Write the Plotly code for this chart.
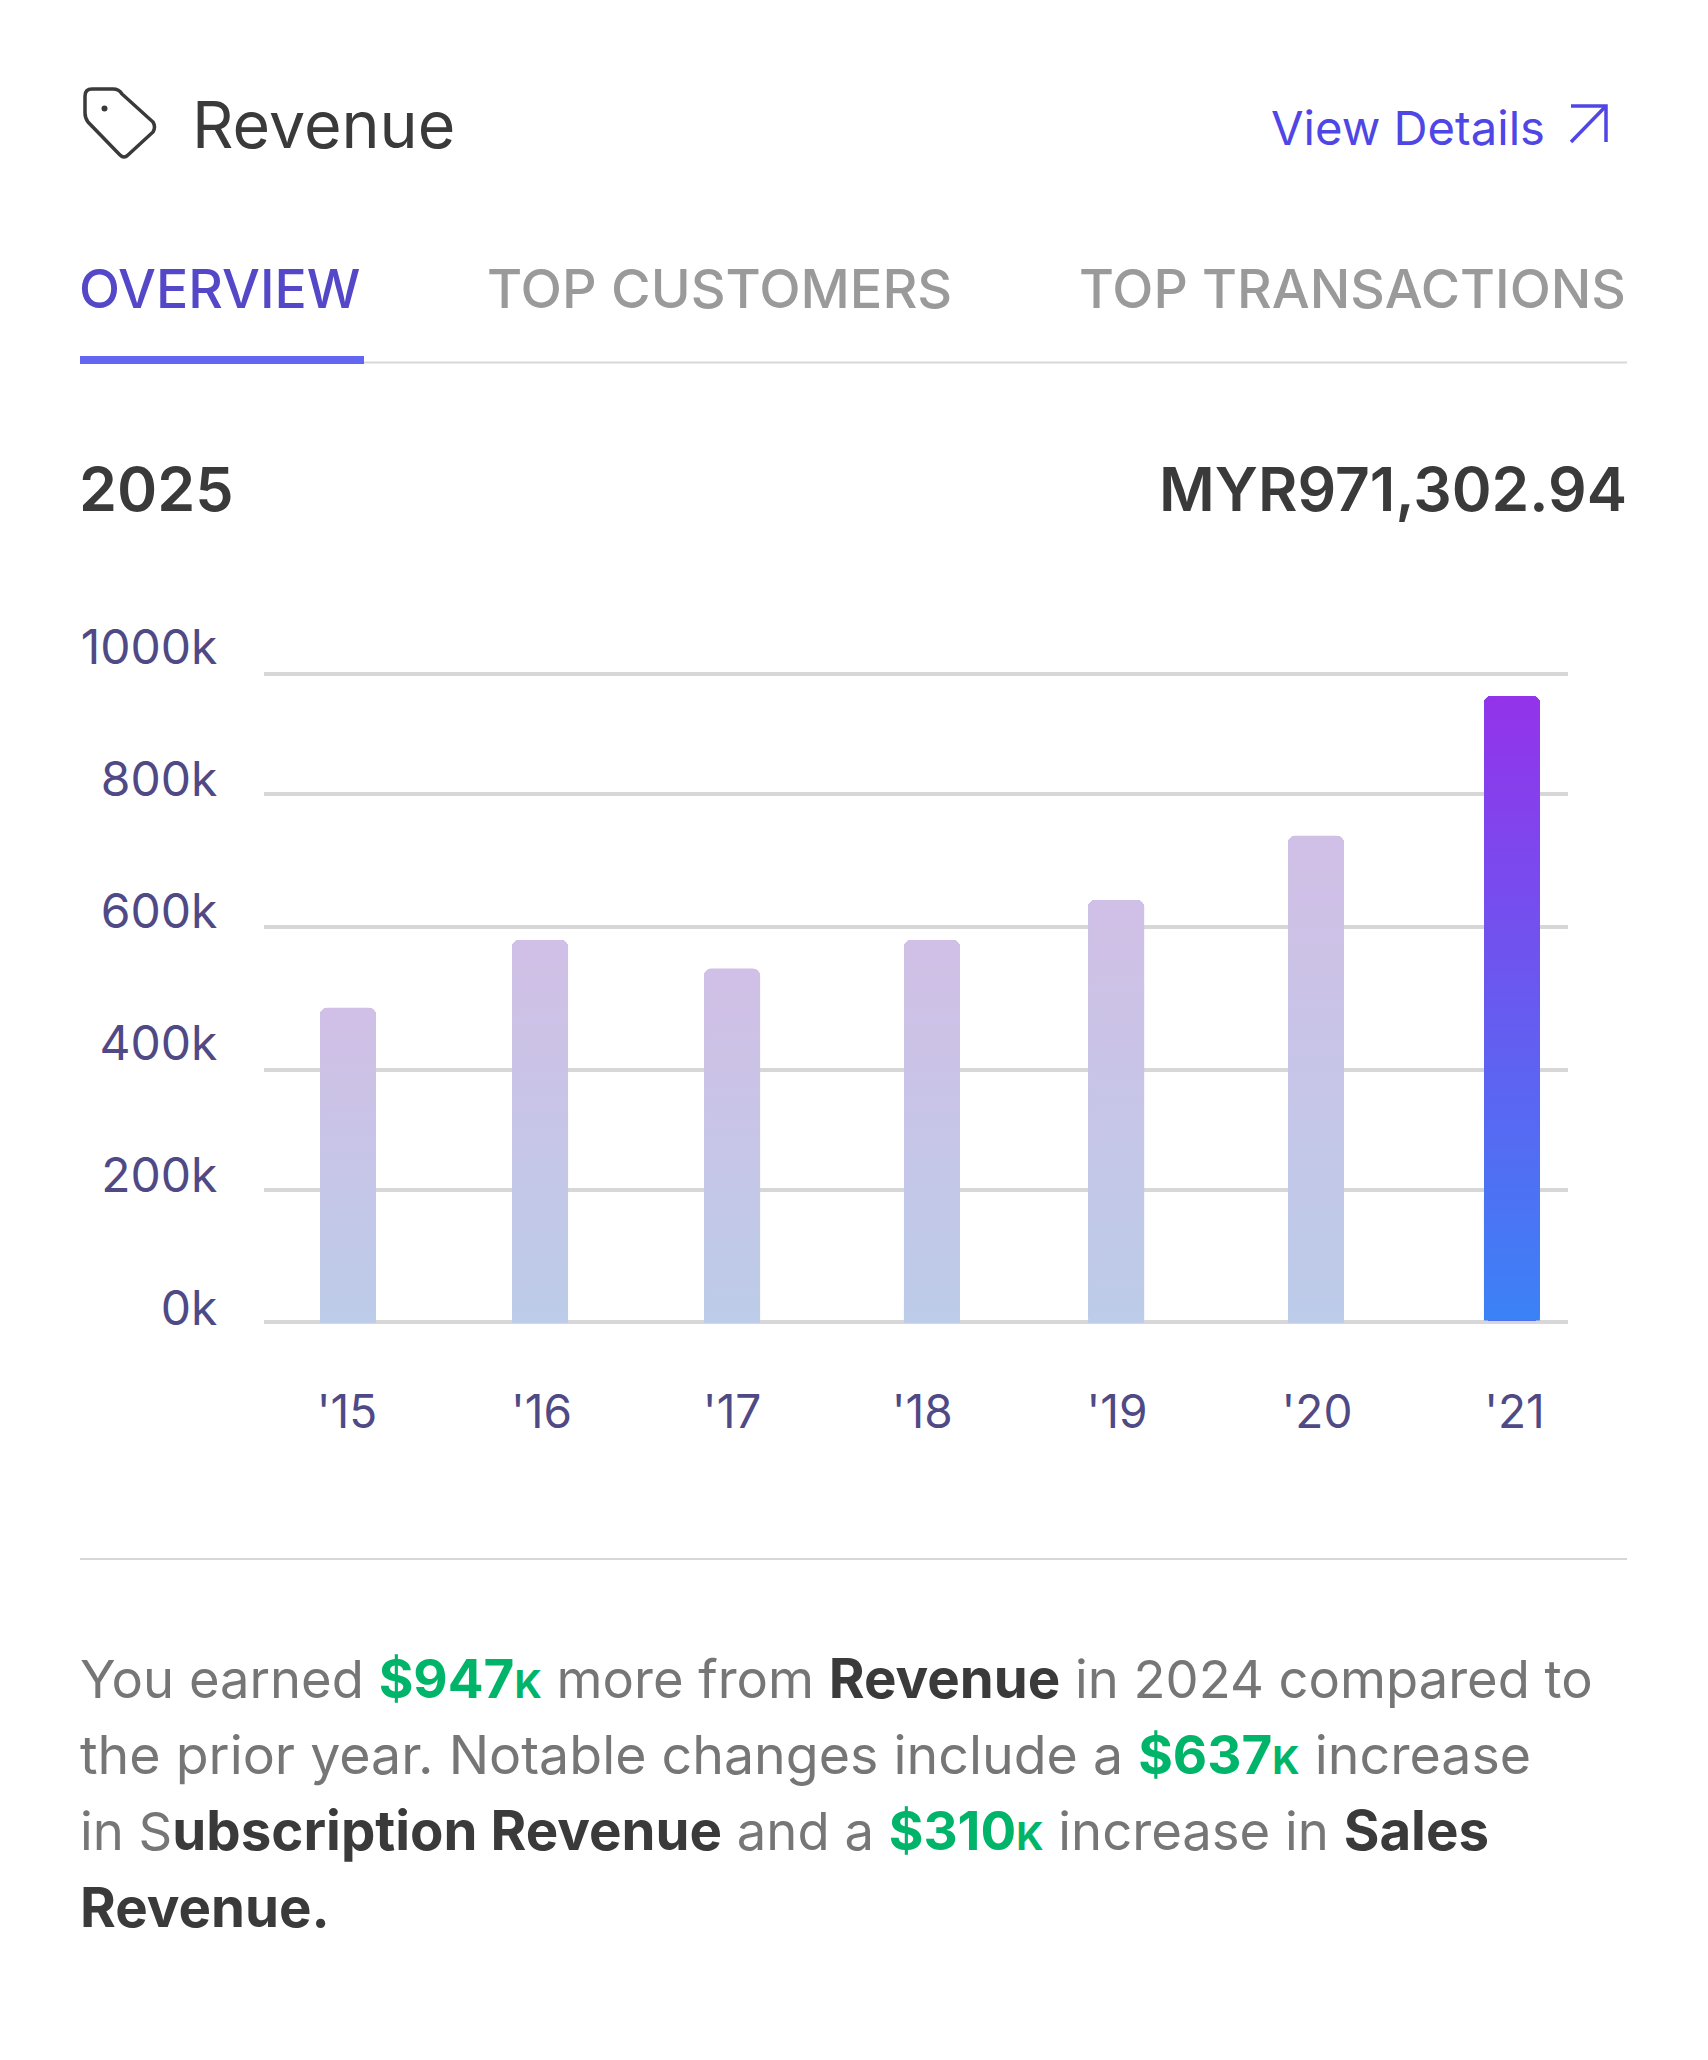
import math
import plotly.graph_objects as go

# ---- data ----
year_labels = ["'15", "'16", "'17", "'18", "'19", "'20", "'21"]
bar_positions = [2015, 2015.99, 2016.98, 2018.01, 2018.96, 2019.99, 2021]
label_positions = [2014.995, 2015.997, 2016.98, 2017.96, 2018.964, 2019.995, 2021.013]
bar_tops = [485, 589.5, 545.5, 589.5, 651, 750.5, 966]      # thousands
bar_bases = [-1.5, -1.5, -1.5, -1.5, -1.5, -1.5, 2.2]
axis_values = [0, 200, 400, 600, 800, 1000]
axis_labels = ["0k", "200k", "400k", "600k", "800k", "1000k"]
grid_values = [0, 204.5, 389, 610, 815, 1000]

W, H = 1708, 2060
FONT = "Inter"
INK = "#3a3a3a"
GREY = "#9a9a9a"
BODY = "#767676"
GREEN = "#00b56a"
AXIS_INK = "#4f4a85"
RULE = "#d7d7d7"

LIGHT = [[0, "#bccce9"], [1, "#d1bfe6"]]
STRONG = [[0, "#3b82f6"], [1, "#9333ea"]]
LIGHT_MID = "#c6c5e7"
STRONG_MID = "#675bf0"


def px(x):
    return x / W


def py(y):
    return 1 - y / H


BAR_W = 0.2887
XR = 7 / 194
YR = 7 / 0.648


def rounded(cx, base, top):
    left, right = cx - BAR_W / 2, cx + BAR_W / 2
    xs, ys = [left], [base]
    for cxx, sgn, start in ((left + XR, -1, 0), (right - XR, 1, 1)):
        for i in range(7):
            a = (i / 6 if start == 0 else 1 - i / 6) * math.pi / 2
            xs.append(cxx + sgn * XR * math.cos(a))
            ys.append(top - YR + YR * math.sin(a))
    xs += [right, left]
    ys += [base, base]
    return xs, ys


fig = go.Figure()
n = len(bar_tops)
fig.add_trace(go.Bar(
    x=bar_positions,
    y=[t - b for t, b in zip(bar_tops, bar_bases)],
    base=bar_bases,
    width=BAR_W,
    marker=dict(color=[LIGHT_MID] * (n - 1) + [STRONG_MID], line_width=0, cornerradius=7),
    showlegend=False,
    hoverinfo="skip",
))
for i in range(n):
    xs, ys = rounded(bar_positions[i], bar_bases[i], bar_tops[i])
    fig.add_trace(go.Scatter(
        x=xs, y=ys, mode="lines", fill="toself", line=dict(width=0),
        fillgradient=dict(type="vertical", colorscale=STRONG if i == n - 1 else LIGHT),
        showlegend=False, hoverinfo="skip",
    ))
# carries the evenly spaced axis labels
fig.add_trace(go.Scatter(x=[bar_positions[0]], y=[0], yaxis="y2", mode="markers",
                         marker=dict(opacity=0), showlegend=False, hoverinfo="skip"))


def label(x, y, text, size, color, anchor="left", weight=400):
    return dict(xref="paper", yref="paper", x=px(x), y=py(y), text=text, showarrow=False,
                xanchor=anchor, yanchor="middle", align=anchor,
                font=dict(family=FONT, size=size, color=color, weight=weight))


def k(s):
    return (f'<span style="color:{GREEN};font-weight:700;font-size:53px">{s}'
            f'<span style="font-size:38px">K</span></span>')


def dark(s):
    return f'<span style="color:{INK};font-weight:700;font-size:54.6px">{s}</span>'


annotations = [
    label(190, 125, "Revenue", 64.5, INK),
    label(1269, 127, "View Details", 47.2, "#4f46e5"),
    label(77, 288, "OVERVIEW", 53.5, "#5448c8", weight=500),
    label(485, 288, "TOP CUSTOMERS", 54, GREY, weight=500),
    label(1077, 288, "TOP TRANSACTIONS", 53.6, GREY, weight=500),
    label(77, 489, "2025", 61, INK, weight=600),
    label(1629, 489, "MYR971,302.94", 60.5, INK, anchor="right", weight=600),
    label(78, 1677.5, f"You earned {k('$947')} more from {dark('Revenue')} in 2024 compared to", 52.5, BODY),
    label(78, 1754.5, f"the prior year. Notable changes include a {k('$637')} increase", 53.7, BODY),
    label(78, 1829.5, f"in S{dark('ubscription Revenue')} and a {k('$310')} increase in {dark('Sales')}", 52.6, BODY),
    label(78, 1906.5, dark("Revenue."), 54.4, BODY),
]


def pth(points, close=False):
    out = []
    for p in points:
        if p[0] == "Q":
            out.append(f"Q{px(p[1])},{py(p[2])} {px(p[3])},{py(p[4])}")
        else:
            out.append(f"{p[0]}{px(p[1])},{py(p[2])}")
    return " ".join(out) + (" Z" if close else "")


def rule(x0, x1, y0, y1, color):
    return dict(type="rect", xref="paper", yref="paper", x0=px(x0), x1=px(x1), y0=py(y0), y1=py(y1),
                fillcolor=color, line_width=0, layer="above")


tag = pth([("M", 92, 89), ("L", 113, 89), ("Q", 119, 89, 122, 94), ("L", 153, 122),
           ("Q", 156, 127, 153, 132), ("L", 128, 155), ("Q", 124, 159, 120, 155),
           ("L", 88, 122), ("Q", 85, 118, 85, 113), ("L", 85, 96), ("Q", 85, 89, 92, 89)], True)
arrow1 = pth([("M", 1571, 106), ("L", 1606, 106), ("L", 1606, 142)])
arrow2 = pth([("M", 1606, 106), ("L", 1571, 142)])

shapes = [
    rule(80, 1627, 361.5, 363.5, RULE),
    rule(80, 364, 356, 364, "#6366f1"),
    rule(80, 1627, 1558, 1560, RULE),
    dict(type="path", xref="paper", yref="paper", path=tag, line=dict(color=INK, width=3.5)),
    dict(type="circle", xref="paper", yref="paper", x0=px(101.5), x1=px(107.5), y0=py(105.5), y1=py(111.5),
         fillcolor=INK, line_width=0),
    dict(type="path", xref="paper", yref="paper", path=arrow1, line=dict(color="#4f46e5", width=3.5)),
    dict(type="path", xref="paper", yref="paper", path=arrow2, line=dict(color="#4f46e5", width=3.5)),
]

fig.update_layout(
    width=W, height=H, autosize=False,
    margin=dict(l=0, r=0, t=0, b=0),
    paper_bgcolor="white", plot_bgcolor="white",
    showlegend=False, bargap=0,
    annotations=annotations, shapes=shapes,
    xaxis=dict(
        automargin=False,
        domain=[px(264), px(1568)],
        range=[2014.567, 2021.289],
        tickmode="array", tickvals=label_positions, ticktext=year_labels,
        showgrid=False, zeroline=False, showline=False,
        ticks="outside", ticklen=42, tickcolor="rgba(0,0,0,0)",
        tickfont=dict(family=FONT, size=46, color=AXIS_INK),
    ),
    yaxis=dict(
        automargin=False,
        domain=[py(1330), py(640)],
        range=[-12.3, 1052.5],
        tickmode="array", tickvals=grid_values, showticklabels=False,
        showgrid=True, gridcolor=RULE, gridwidth=3.5, zeroline=False, showline=False, ticks="",
    ),
    yaxis2=dict(
        automargin=False,
        domain=[py(1330), py(640)],
        overlaying="y", side="left",
        range=[-33.6, 1010.2],
        tickmode="array", tickvals=axis_values, ticktext=axis_labels,
        showgrid=False, zeroline=False, showline=False,
        ticks="outside", ticklen=36, tickcolor="rgba(0,0,0,0)",
        tickfont=dict(family=FONT, size=48, color=AXIS_INK),
    ),
)

fig.write_html("out.html", config=dict(displayModeBar=False),
               post_script="document.body.style.margin='0';")
